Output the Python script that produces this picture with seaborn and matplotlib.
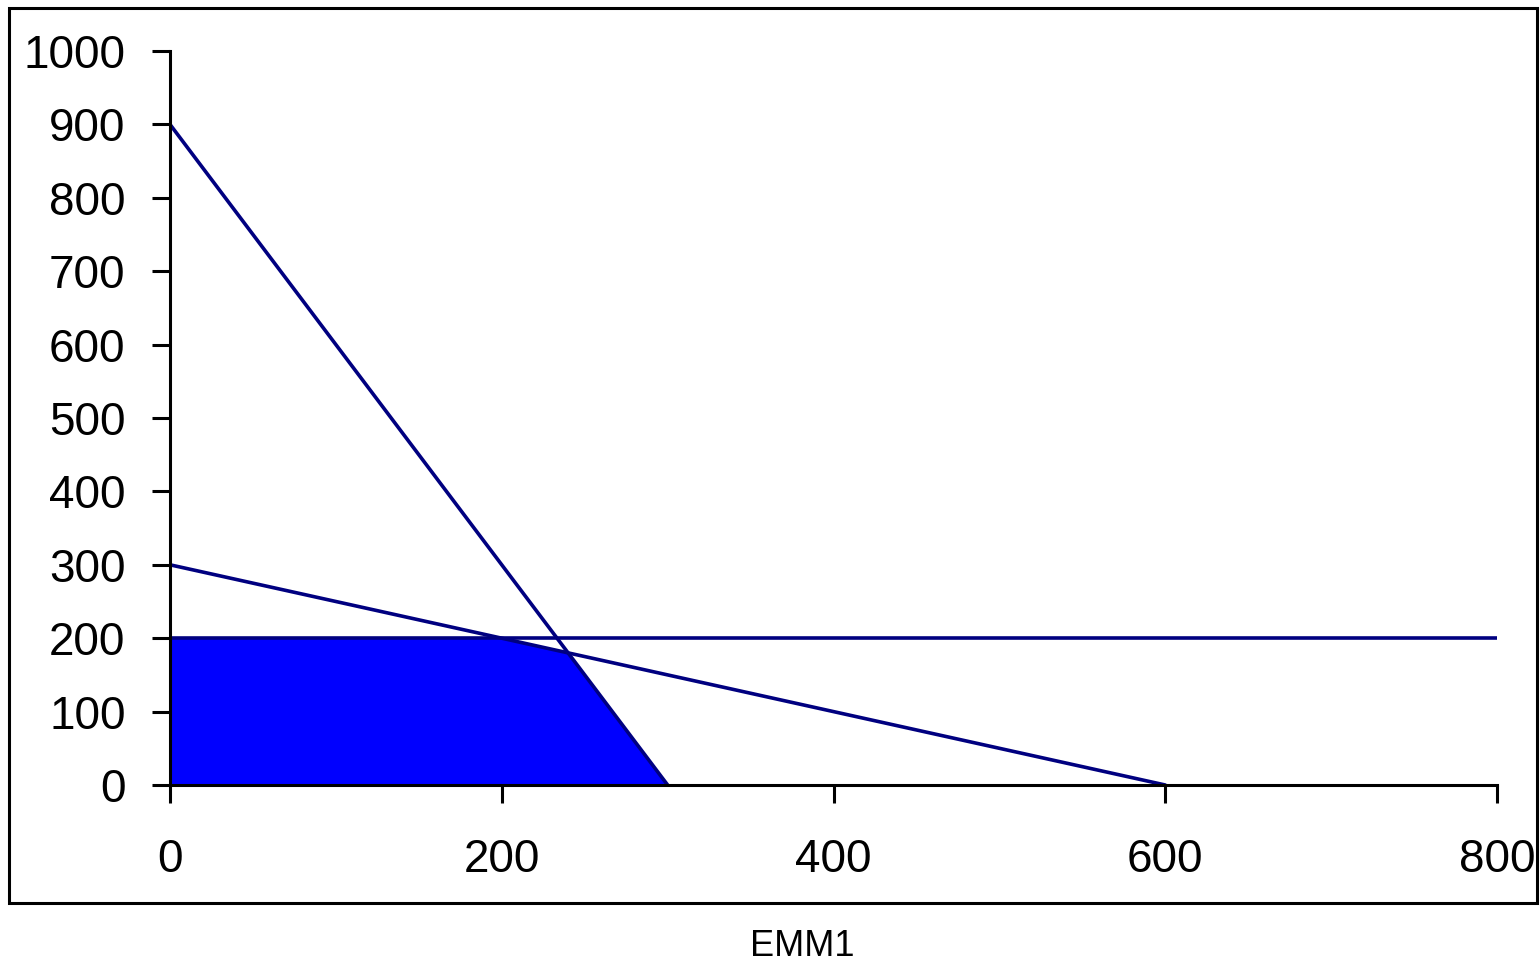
import matplotlib
matplotlib.use("Agg")
import matplotlib.pyplot as plt
import seaborn as sns
import pandas as pd
from matplotlib.patches import Rectangle

# Data
line1_x = [0, 300]
line1_y = [900, 0]
line2_x = [0, 600]
line2_y = [300, 0]
line3_x = [0, 800]
line3_y = [200, 200]
region_x = [0, 0, 200, 240, 300]
region_y = [0, 200, 200, 180, 0]
x_ticks = [0, 200, 400, 600, 800]
y_ticks = [0, 100, 200, 300, 400, 500, 600, 700, 800, 900, 1000]
x_label = "EMM1"

sns.set_style("white")
plt.rcParams['font.family'] = ['Liberation Sans', 'DejaVu Sans']

W, H = 1540, 963
fig = plt.figure(figsize=(W / 100, H / 100), dpi=100)
ax = fig.add_axes([170 / W, 1 - 785 / H, (1497 - 170) / W, (785 - 51) / H])

ax.fill(region_x, region_y, color="#0000FF", zorder=1, linewidth=0)
navy = "#000080"
for xs, ys in [(line1_x, line1_y), (line2_x, line2_y), (line3_x, line3_y)]:
    df = pd.DataFrame({"x": xs, "y": ys})
    sns.lineplot(data=df, x="x", y="y", ax=ax, color=navy, linewidth=2.6,
                 sort=False, zorder=3)

ax.set_xlim(0, 800)
ax.set_ylim(0, 1000)
ax.set_xticks(x_ticks)
ax.set_yticks(y_ticks)
ax.set_xlabel("")
ax.set_ylabel("")
ax.set_facecolor("none")
for s in ["top", "right"]:
    ax.spines[s].set_visible(False)
for s in ["left", "bottom"]:
    ax.spines[s].set_color("black")
    ax.spines[s].set_linewidth(2.2)
    ax.spines[s].set_zorder(4)
ax.tick_params(axis="both", direction="out", length=13, width=2.2,
               color="black", labelsize=33, labelcolor="black",
               bottom=True, left=True, top=False, right=False)
ax.tick_params(axis="y", pad=19)
ax.tick_params(axis="x", pad=25)
for t in ax.xaxis.get_major_ticks() + ax.yaxis.get_major_ticks():
    t.tick1line.set_clip_on(False)
    t.tick1line.set_zorder(5)

# Outer frame
fig.patches.append(Rectangle((9 / W, 1 - 903 / H), (1537 - 9) / W, (903 - 8) / H,
                             transform=fig.transFigure, fill=False,
                             edgecolor="black", linewidth=2.2, zorder=0))

fig.text(802 / W, 7 / H, x_label, ha="center", va="baseline", fontsize=26,
         color="black")

fig.savefig("out.png", dpi=100, facecolor="white")
